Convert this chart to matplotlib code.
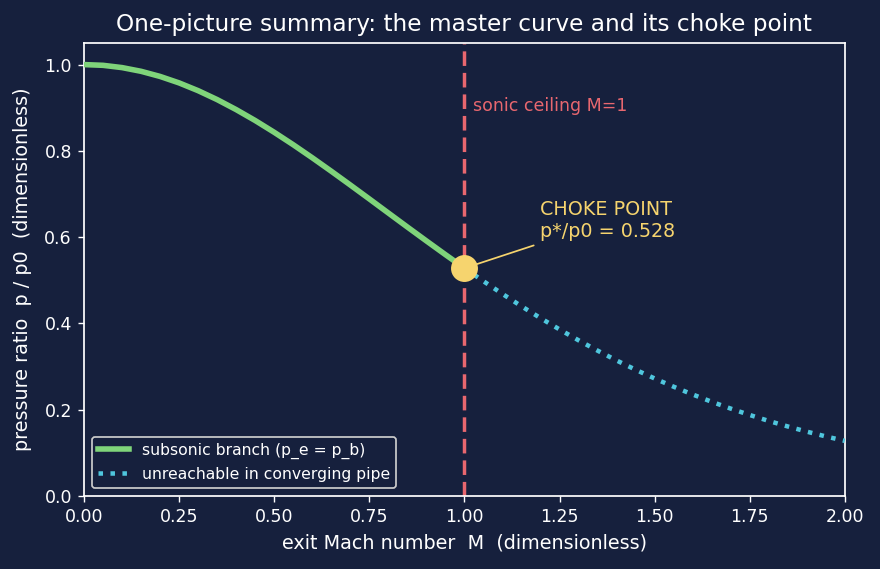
import numpy as np
import matplotlib
matplotlib.use("Agg")
import matplotlib.pyplot as plt

# Mach numbers and pressure ratios
mach_sub = [0.0, 0.05, 0.1, 0.15, 0.2, 0.25, 0.3, 0.35, 0.4, 0.45, 0.5,
            0.55, 0.6, 0.65, 0.7, 0.75, 0.8, 0.85, 0.9, 0.95, 1.0]
p_sub = [1.0, 0.9983, 0.993, 0.9844, 0.9725, 0.9575, 0.9395, 0.9188, 0.8956, 0.8703, 0.843,
         0.8142, 0.784, 0.7528, 0.7209, 0.6886, 0.656, 0.6235, 0.5913, 0.5595, 0.5283]
mach_sup = [1.0, 1.05, 1.1, 1.15, 1.2, 1.25, 1.3, 1.35, 1.4, 1.45, 1.5,
            1.55, 1.6, 1.65, 1.7, 1.75, 1.8, 1.85, 1.9, 1.95, 2.0]
p_sup = [0.5283, 0.4979, 0.4684, 0.4398, 0.4124, 0.3861, 0.3609, 0.337, 0.3142, 0.2927, 0.2724,
         0.2533, 0.2353, 0.2184, 0.2026, 0.1878, 0.174, 0.1612, 0.1492, 0.1381, 0.1278]
choke_m = 1.0
choke_p = 0.528

bg = "#16203d"
fg = "white"

fig = plt.figure(figsize=(7.04, 4.552), dpi=125, facecolor=bg)
ax = fig.add_axes([0.0955, 0.1283, 0.8645, 0.7961])
ax.set_facecolor(bg)

ax.plot(mach_sub, p_sub, color="#7fd47a", lw=3.2, label="subsonic branch (p_e = p_b)", zorder=3)
ax.plot(mach_sup, p_sup, color="#4fc6dd", lw=2.6, ls=":", label="unreachable in converging pipe", zorder=3)
ax.axvline(choke_m, color="#e8676f", lw=2, ls=(0, (4.2, 2)), zorder=2)
ax.plot([choke_m], [choke_p], "o", ms=14.5, color="#f6d46e", zorder=5)

ax.text(1.022, 0.905, "sonic ceiling M=1", color="#e8676f", fontsize=10, va="center")
ax.annotate("CHOKE POINT\np*/p0 = 0.528", xy=(choke_m, choke_p), xytext=(1.2, 0.59),
            color="#f6d46e", fontsize=11, va="bottom",
            arrowprops=dict(arrowstyle="-", color="#f6d46e", lw=1, shrinkA=2, shrinkB=7))

ax.set_xlim(0, 2)
ax.set_ylim(0, 1.05)
ax.set_xticks(np.arange(0, 2.01, 0.25))
ax.set_yticks(np.arange(0, 1.01, 0.2))
ax.tick_params(colors=fg, labelsize=10)
for s in ax.spines.values():
    s.set_color(fg)
    s.set_linewidth(1)

ax.set_xlabel("exit Mach number  M  (dimensionless)", color=fg, fontsize=11)
ax.set_ylabel("pressure ratio  p / p0  (dimensionless)", color=fg, fontsize=11, labelpad=7)
ax.set_title("One-picture summary: the master curve and its choke point", color=fg, fontsize=13.4, pad=7)

leg = ax.legend(loc="lower left", fontsize=9, facecolor=bg, edgecolor="#cccccc", framealpha=1)
for t in leg.get_texts():
    t.set_color(fg)

fig.savefig("out.png", dpi=125, facecolor=bg)
